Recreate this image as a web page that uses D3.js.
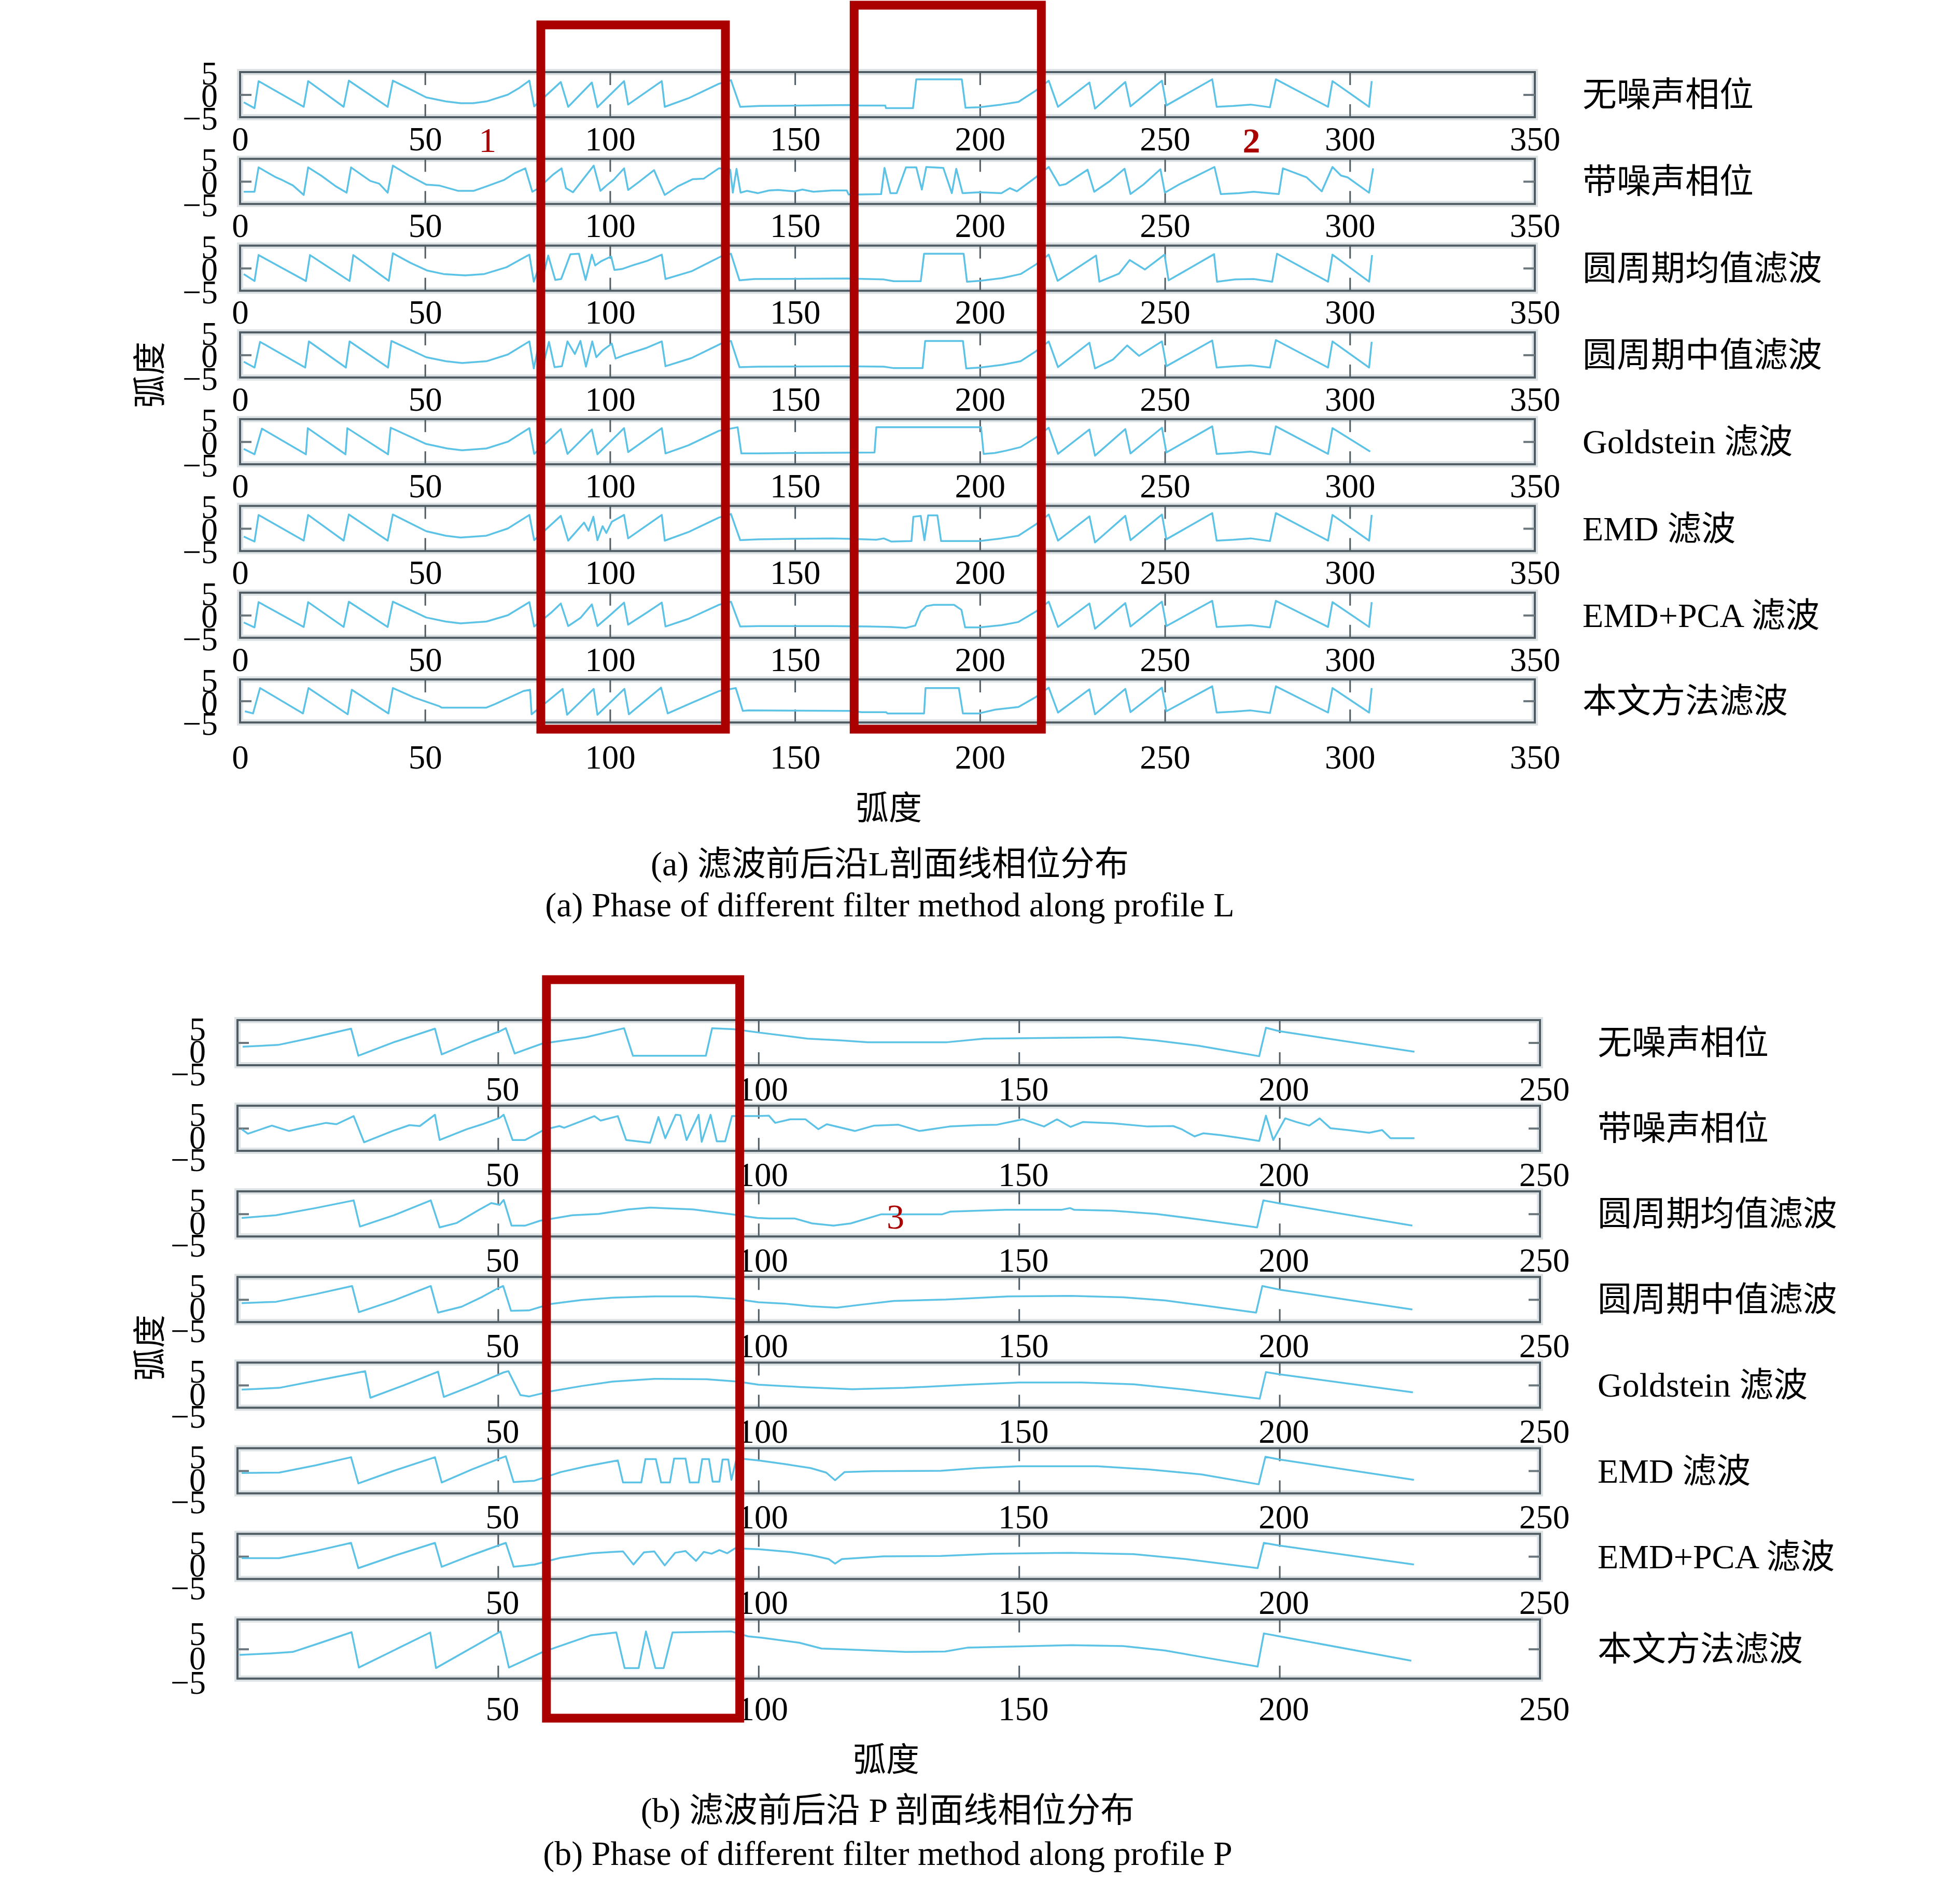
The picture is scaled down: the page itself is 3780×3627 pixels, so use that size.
<!DOCTYPE html>
<html>
<head>
<meta charset="utf-8">
<script src="https://cdn.jsdelivr.net/npm/d3@7"></script>
<style>
  body { margin: 0; background: #fff; }
  text { font-family: "Liberation Serif", "Noto Sans CJK SC", serif; }
</style>
</head>
<body>
<script>
const methods = ["无噪声相位", "带噪声相位", "圆周期均值滤波", "圆周期中值滤波", "Goldstein 滤波", "EMD 滤波", "EMD+PCA 滤波", "本文方法滤波"];
const xTicksL = [0, 50, 100, 150, 200, 250, 300, 350];
const xTicksP = [50, 100, 150, 200, 250];
const yTicks = [5, 0, -5];

// profile L, vertices [x, phase]
const lNoiseFree = [[1,-1.7],[3.9,-3.0],[5,3.0],[17.2,-2.7],[18.4,3.0],[28,-2.7],[29.4,3.1],[39.9,-2.7],[41.3,3.1],[46,1.2],[50.3,-0.6],[55.6,-1.5],[59.6,-1.9],[63,-1.9],[66.6,-1.5],[72.4,0],[75.5,1.5],[78.2,3.1],[79.5,-2.6],[86.7,2.8],[88.7,-2.7],[95.1,2.7],[96.6,-2.8],[103.8,3.0],[104.9,-2.2],[114,3.0],[114.8,-2.7],[121.2,-0.8],[129.4,2.4],[132.7,3.2],[135.2,-2.7],[140.4,-2.5],[164.5,-2.3],[167.6,-2.4],[174.4,-2.4],[174.6,-3.0],[181.9,-3.0],[182.8,3.4],[195.1,3.4],[196.1,-2.9],[199.9,-2.8],[205.8,-2.2],[210.4,-1.6],[215.1,0.9],[218.6,3.1],[221.1,-2.7],[229.6,2.7],[231.1,-3.1],[239.3,2.8],[240.7,-2.6],[249.2,3.1],[250.4,-2.4],[262.8,3.4],[264,-2.7],[268.5,-2.5],[273.2,-2.2],[278.4,-2.8],[280,3.4],[294.1,-2.7],[295.3,3.0],[305.2,-2.7],[305.9,3.0]];
const lNoisy = [[1,-2.3],[3.9,-2.3],[5,3.1],[9.7,0.9],[11.4,0.3],[14.3,-0.9],[17.2,-3.0],[18.4,3.1],[21.9,1.3],[25.9,-1.1],[28.8,-2.5],[30,3.1],[35.2,0.1],[37.6,-0.5],[39.9,-2.5],[41.3,3.5],[45.7,1.3],[50.3,-0.7],[53.8,-0.9],[59,-2.1],[63.1,-2.1],[66.6,-1.1],[71.3,0.3],[74.2,1.8],[77.1,2.9],[79,-2.3],[80.5,-1.6],[84.6,1.5],[86.9,2.9],[88.1,-1.5],[90,-2.4],[95.6,3.5],[97.4,-2.1],[99.2,-0.8],[101,0.4],[103.8,2.9],[104.9,-1.9],[108,0],[111.9,2.5],[114.8,-3.0],[118.3,-1.1],[122.4,0.5],[125.3,0.6],[129.4,2.9],[132.5,2.6],[133.2,-2.5],[134.2,2.8],[135.3,-2.5],[137,-2.1],[140,-2.6],[143,-2.0],[145.4,-1.9],[149.9,-2.2],[152,-1.8],[155,-2.3],[160,-2.0],[164,-2.0],[164.5,-2.9],[167.6,-2.9],[173.3,-2.8],[174.2,3.0],[175.8,-2.6],[177.5,-2.6],[180,3.1],[182.8,3.1],[184.3,-1.8],[185.5,3.2],[190.1,3.0],[192.4,-2.6],[193.6,2.8],[195.3,-2.6],[199.9,-2.4],[205.8,-2.6],[208.1,-1.5],[210,-2.2],[215.1,0.9],[218.6,3.2],[221.5,-0.9],[223.2,-0.6],[229.1,2.6],[230.9,-2.3],[235,0],[239.1,2.8],[240.7,-2.8],[244.2,-0.7],[248.8,2.7],[250,-2.5],[254,-0.6],[258,1.0],[263.4,3.2],[265.1,-2.8],[270,-2.6],[274,-2.3],[280.8,-2.8],[281.9,2.9],[288.3,0.9],[292.4,-2.2],[295.3,3.2],[297.6,1.3],[299.4,0.9],[305.2,-2.5],[306.3,2.9]];
const lCircMean = [[1,-1.3],[3.9,-2.85],[5,2.9],[17.8,-2.85],[18.9,2.9],[29.6,-2.85],[30.6,2.9],[40.2,-2.8],[41.3,3.3],[46,1.2],[50.5,-0.5],[55,-1.3],[60.8,-1.6],[66,-1.3],[72,0.2],[78.2,3.0],[79.4,-3.0],[81.2,1.2],[82.2,-0.8],[83.3,2.8],[85.2,-2.6],[86.8,-2.4],[89.3,3.1],[91.6,3.2],[93.4,-2.6],[95.1,3.0],[96,0.6],[97.5,1.5],[100.3,2.6],[101.2,-0.4],[103.2,-0.2],[106,0.6],[110,1.6],[114,3.0],[115,-2.4],[122,-0.7],[130,2.6],[132.7,3.2],[135,-2.7],[139,-2.4],[164,-2.3],[174,-2.5],[176.7,-2.9],[184,-2.9],[184.9,3.2],[195.6,3.2],[196.5,-3.0],[200,-2.8],[206,-2.2],[211,-1.3],[215.1,0.8],[218.6,3.0],[221,-2.8],[231.4,2.8],[232.3,-3.0],[237.6,-1.2],[240.5,1.8],[244.6,-0.3],[249.9,3.0],[251,-2.7],[263.3,3.1],[264.1,-3.0],[269,-2.5],[274,-2.4],[279,-3.0],[280.3,3.2],[294.1,-3.0],[295.3,3.0],[305.2,-3.0],[306,2.9]];
const lCircMedian = [[1,-1.5],[3.9,-2.8],[5.4,2.9],[17.6,-2.8],[18.6,3.0],[28.6,-2.8],[29.6,3.0],[40,-2.8],[40.9,3.1],[50.3,-0.5],[55.6,-1.4],[60,-1.8],[66.6,-1.4],[72.4,0.1],[78.2,3.0],[79.4,-3.0],[80.8,2.5],[82,-2.0],[83.5,2.9],[85,-2.7],[87,-2.5],[88.5,3.0],[90.5,0.2],[92,3.1],[93.5,-2.6],[95.2,3.0],[96.3,-0.5],[98,1.0],[100.5,2.5],[101.5,-0.8],[104,0],[110,1.6],[114,3.0],[115,-2.5],[122,-0.7],[130,2.5],[132.7,3.1],[135,-2.7],[140,-2.6],[164,-2.5],[174,-2.6],[176.5,-2.9],[184.5,-2.9],[185.2,3.1],[195.4,3.1],[196.3,-3.0],[200,-2.8],[206,-2.2],[211,-1.4],[215.1,0.8],[218.6,3.0],[221.1,-2.7],[229.6,2.7],[231.1,-3.0],[236,-1.0],[239.8,2.1],[243,-0.2],[249.2,3.0],[250.4,-2.5],[262.8,3.2],[264,-2.8],[268.5,-2.5],[273.2,-2.3],[278.4,-2.8],[280,3.3],[294.1,-2.8],[295.3,3.0],[305.2,-2.8],[305.9,2.9]];
const lGoldstein = [[1,-1.6],[3.9,-2.8],[5.9,2.9],[17.8,-2.8],[18.3,3.0],[28.5,-2.8],[29,3.0],[40,-2.8],[40.7,3.1],[50.3,-0.5],[56,-1.5],[60,-1.9],[66.6,-1.5],[72.4,0],[78.2,3.0],[79.5,-2.7],[86.7,2.8],[88.5,-2.7],[95.1,2.7],[96.6,-2.8],[103.8,3.0],[104.9,-2.3],[114,3.0],[115,-2.6],[121.2,-0.8],[129.4,2.4],[134.5,3.2],[135.5,-2.6],[140,-2.6],[150,-2.5],[171.5,-2.4],[172,3.2],[200.3,3.2],[201,-2.7],[204,-2.5],[207,-2.0],[211,-1.2],[215.1,0.9],[218.6,3.1],[221.1,-2.7],[229.6,2.7],[231.1,-3.1],[239.3,2.8],[240.7,-2.6],[249.2,3.1],[250.4,-2.4],[262.8,3.4],[264,-2.7],[268.5,-2.5],[273.2,-2.2],[278.4,-2.8],[280,3.4],[294.1,-2.7],[295.3,3.0],[305.5,-2.2]];
const lEmd = [[1,-1.8],[3.9,-2.9],[5,3.0],[17.2,-2.7],[18.4,3.0],[28,-2.7],[29.4,3.1],[39.9,-2.7],[41.3,3.1],[50.3,-0.6],[55.6,-1.6],[59.6,-2.0],[66.6,-1.6],[72.4,0],[78.2,3.0],[79.5,-2.6],[86.7,2.8],[88.7,-2.7],[93,1.3],[94.2,-0.5],[95.5,2.6],[96.6,-2.6],[98,0.5],[99,-1.0],[100.5,1.5],[103.8,3.0],[104.9,-2.2],[114,3.0],[114.8,-2.7],[121.2,-0.8],[129.4,2.4],[132.7,3.2],[135.2,-2.6],[140,-2.4],[160,-2.2],[165,-2.3],[172,-2.5],[174,-2.2],[176,-2.9],[181.5,-2.8],[182,2.6],[184,2.8],[185,-2.6],[186,2.9],[188.5,2.9],[189.5,-2.8],[199.9,-2.8],[205.8,-2.2],[210.4,-1.6],[215.1,0.9],[218.6,3.1],[221.1,-2.7],[229.6,2.7],[231.1,-3.1],[239.3,2.8],[240.7,-2.6],[249.2,3.1],[250.4,-2.4],[262.8,3.4],[264,-2.7],[268.5,-2.5],[273.2,-2.2],[278.4,-2.8],[280,3.4],[294.1,-2.7],[295.3,3.0],[305.2,-2.7],[305.9,3.0]];
const lEmdPca = [[1,-1.6],[3.9,-2.7],[5,2.9],[17.2,-2.6],[18.4,2.9],[28,-2.6],[29.4,3.0],[39.9,-2.6],[41.3,3.0],[50.3,-0.5],[55.6,-1.4],[59.6,-1.8],[66.6,-1.4],[72.4,0],[78.2,2.9],[79.5,-2.5],[84,0.5],[86.7,2.6],[88.7,-2.4],[92,-0.6],[95.1,2.4],[96.6,-2.4],[100,0],[103.8,2.8],[104.9,-2.1],[110,0.6],[114,2.8],[115,-2.5],[121.2,-0.8],[129.4,2.3],[132.7,3.0],[135.2,-2.5],[140,-2.4],[160,-2.4],[170,-2.5],[176,-2.6],[180,-2.8],[182.5,-2.3],[184,0.8],[185.5,2.0],[187.5,2.3],[193,2.3],[195,1.2],[196,-2.7],[199.9,-2.7],[205.8,-2.2],[210.4,-1.5],[215.1,0.8],[218.6,3.0],[221.1,-2.6],[229.6,2.6],[231.1,-3.0],[239.3,2.7],[240.7,-2.5],[249.2,3.0],[250.4,-2.4],[262.8,3.2],[264,-2.6],[268.5,-2.4],[273.2,-2.2],[278.4,-2.7],[280,3.2],[294.1,-2.6],[295.3,2.9],[305.2,-2.6],[305.9,2.9]];
const lProposed = [[1.3,-2.4],[3.5,-2.9],[5.4,3.0],[17,-2.9],[18.5,3.0],[29.1,-3.1],[30.2,2.6],[40.1,-2.9],[41.3,3.0],[47,0.8],[53.8,-1.2],[54.5,-1.55],[66.6,-1.55],[69,-0.7],[76.6,2.3],[78.4,2.6],[78.8,-3.1],[87.2,2.8],[88.4,-3.2],[95.6,2.8],[96.6,-3.2],[103.9,2.8],[105.1,-3.1],[113.8,3.1],[115.6,-2.9],[122.2,-0.4],[129.5,2.3],[134,3.0],[135.9,-2.3],[137.4,-2.2],[164.8,-2.3],[168,-2.6],[174.6,-2.6],[175,-2.9],[184.9,-2.9],[185.3,3.0],[194.3,3.0],[195.4,-2.9],[199.7,-2.9],[204.2,-2.0],[210.4,-1.4],[215.1,0.9],[218.6,3.1],[221.1,-2.7],[229.6,2.7],[231.1,-3.1],[239.3,2.8],[240.7,-2.6],[249.2,3.1],[250.4,-2.4],[262.8,3.4],[264,-2.7],[268.5,-2.5],[273.2,-2.2],[278.4,-2.8],[280,3.4],[294.1,-2.7],[295.3,3.0],[305.2,-2.7],[305.9,3.0]];

// profile P
const pNoiseFree = [[1,-0.9],[7.8,-0.5],[14,1.0],[21.8,3.1],[23.2,-2.9],[30,0.1],[37.9,3.1],[39.2,-2.6],[45,0.2],[50.3,2.5],[51.5,3.2],[53.2,-2.4],[58.5,-0.2],[66.9,1.2],[74.2,3.2],[75.9,-2.9],[89.9,-2.9],[91.1,3.2],[95.2,3.0],[100.4,2.2],[109.4,0.9],[116,0.5],[121,0.1],[136.2,0.1],[143.3,0.9],[169.3,1.2],[176.3,0.5],[184.5,-0.7],[196.1,-3.0],[197.4,3.3],[199.9,2.55],[225.9,-2.0]];
const pNoisy = [[0.8,-0.2],[2,-1.2],[6.6,0.6],[9.9,-0.6],[13.2,0.3],[17,1.2],[19,0.9],[22.3,2.7],[24.3,-3.1],[30,-0.5],[33,0.7],[35,0.5],[37.9,3.0],[38.8,-2.6],[44,-0.2],[47,0.9],[50.3,2.3],[51.1,3.0],[52.8,-2.6],[55.2,-2.6],[58.9,-0.3],[61.8,0.5],[62.7,0.1],[68.5,2.7],[69.7,1.7],[73,2.7],[74.6,-2.6],[79.2,-3.2],[80.8,2.5],[82.1,-2.2],[84.1,3.0],[85,2.9],[86.2,-2.6],[88.5,3.0],[89.1,-3.0],[90.8,3.0],[92,-2.9],[93.6,-2.9],[94.9,2.7],[99.8,2.7],[102,2.8],[103.2,1.2],[106.1,2.0],[109,2.0],[111.5,-0.2],[113.1,0.9],[118.5,-0.6],[122.2,0.6],[126.8,0.8],[130.9,-0.6],[136.7,0.4],[142,0.7],[145.8,0.8],[150.7,2.0],[154.8,0.4],[157.3,2.0],[159.9,0.3],[162.3,1.4],[168.1,1.1],[174.7,0.4],[179.6,0.5],[181.2,-0.2],[183.7,-1.8],[185.4,-1.1],[188.7,-1.5],[192.8,-2.2],[196.1,-2.8],[197.4,2.8],[198.8,-2.6],[201.1,2.2],[203.2,1.4],[205.7,0.6],[207.7,2.2],[209.8,0],[213.1,-0.4],[217.2,-1.0],[219.7,-0.4],[221.3,-2.2],[225.9,-2.2]];
const pCircMean = [[0.8,-0.9],[7.4,-0.3],[15,1.3],[22.3,3.0],[23.5,-2.8],[30,-0.3],[37.1,3.0],[38.8,-3.0],[42.1,-2.0],[46.2,0.8],[48.7,2.4],[50.3,2.0],[51.1,3.1],[52.6,-2.6],[55.2,-2.6],[58.1,-1.5],[64.3,-0.3],[69.3,0],[75,1.0],[79.2,1.4],[87.4,1.0],[94.9,-0.1],[99.8,-0.9],[102,-1.0],[106.9,-1.0],[110.3,-2.1],[114.4,-2.6],[117.7,-2.1],[123.5,-0.1],[135.2,-0.1],[136.8,0.5],[147.4,0.9],[158.1,0.9],[159.8,1.3],[160.6,0.9],[168,0.7],[176.3,0],[184.5,-1.2],[195.7,-3.0],[196.9,3.0],[200.2,2.3],[225.5,-2.6]];
const pCircMedian = [[0.8,-0.8],[7.4,-0.5],[15,1.2],[22,3.0],[23.3,-2.8],[30,-0.2],[37.1,3.0],[38.5,-2.9],[43,-1.6],[47,0.6],[50,2.5],[51,3.0],[52.5,-2.5],[56,-2.4],[60,-1.0],[66,-0.1],[72,0.4],[80,0.7],[88,0.7],[95,0.2],[100,-0.6],[105,-0.9],[110,-1.5],[115,-1.8],[120,-1.1],[126,-0.3],[136,0],[148,0.7],[160,0.8],[170,0.5],[178,-0.2],[186,-1.4],[195.5,-2.9],[196.7,3.0],[200,2.2],[225.5,-2.2]];
const pGoldstein = [[0.8,-1.0],[8,-0.6],[16,1.2],[24.5,3.1],[25.5,-2.8],[32,0],[38.5,3.0],[39.6,-2.6],[46,0.3],[51,2.8],[52,3.1],[54.3,-2.2],[56,-2.5],[60,-1.4],[66,-0.2],[72,0.8],[80,1.4],[90,1.3],[96,0.8],[100,0.1],[108,-0.4],[118,-0.9],[128,-0.6],[140,0.1],[150,0.6],[162,0.6],[172,0.2],[182,-1.0],[196.2,-3.0],[197.4,2.9],[200,2.4],[225.6,-1.6]];
const pEmd = [[0.8,-0.5],[8,-0.4],[15,1.2],[21.8,3.0],[23.2,-2.8],[30,0],[37.9,3.0],[39.2,-2.6],[45,0.3],[50.5,2.8],[51.5,3.2],[53,-2.5],[57,-2.2],[62,-0.3],[67,1.0],[73,2.3],[74,-2.6],[77.5,-2.6],[78.3,2.6],[80.3,2.6],[81.3,-2.6],[83,-2.6],[83.8,2.7],[86,2.7],[86.8,-2.6],[88.5,-2.6],[89.2,2.6],[90.5,2.6],[91.2,-2.4],[92.5,-2.4],[93.1,2.5],[94.2,2.5],[94.8,-2.0],[95.8,2.8],[100,2.3],[105,1.5],[110,0.6],[113,-0.4],[114.7,-2.1],[116.5,-0.3],[122,-0.1],[135,0],[142,0.6],[150,1.0],[165,1.0],[175,0.3],[185,-0.8],[196,-3.0],[197.3,3.1],[200,2.5],[225.8,-2.0]];
const pEmdPca = [[0.8,-0.4],[8,-0.4],[15,1.2],[21.8,3.0],[23.2,-2.6],[30,0.1],[37.9,3.0],[39.2,-2.3],[45,0.3],[50.5,2.6],[51.5,3.0],[53,-2.3],[57,-1.8],[62,-0.3],[68,0.7],[72,1.0],[74,1.1],[76,-1.8],[78,0.9],[80,1.1],[82,-2.0],[84,0.8],[86,1.2],[88,-1.0],[89.5,1.0],[91,0.6],[92.5,1.4],[94,0.7],[95.5,1.8],[100,1.6],[106,1.0],[110,0.3],[113.5,-0.6],[114.7,-1.6],[116,-0.6],[124,0],[135,0.1],[145,0.6],[160,0.8],[172,0.5],[182,-0.6],[195.8,-2.6],[197,3.0],[200,2.4],[225.8,-1.8]];
const pProposed = [[0.4,-1.2],[6.3,-0.9],[10.6,-0.6],[16,1.3],[21.9,3.45],[23.3,-3.8],[37,3.4],[38.1,-3.9],[50.5,3.6],[52.1,-3.8],[58.6,-0.6],[67.8,2.8],[72.7,3.4],[74.3,-3.9],[77,-3.9],[78.4,3.6],[80.2,-3.9],[81.8,-3.9],[83.5,3.4],[94.8,3.6],[98,2.6],[100.7,2.3],[107.8,1.3],[112.1,0.1],[117.5,-0.1],[128.3,-0.6],[135.8,-0.5],[140.2,0.3],[148.5,0.5],[160,0.8],[170,0.6],[178,-0.3],[186,-1.8],[195.8,-3.6],[197,3.2],[200,2.6],[225.3,-2.4]];

// highlighted ranges (x units) and their markers
const boxesL = [[81.3, 131.2], [166, 216.6]];
const boxesP = [[59.3, 96.4]];
const markersL = [["1", 66.9], ["2", 273.4]];
const markersP = [["3", 126.3]];

const svg = d3.select("body").append("svg")
    .attr("width", 3780)
    .attr("height", 3627)
    .style("background", "#fff");

const lineColor = "#5cc2e6";
const frameColor = "#4f5c63";
const red = "#aa0000";

function drawPanel(opt) {
    const x = d3.scaleLinear().domain(opt.xDomain).range(opt.xRange);
    const n = opt.series.length;

    opt.series.forEach((data, i) => {
        const last = i === n - 1;
        const top = opt.top0 + i * opt.step;
        const h = last ? opt.lastH : opt.h;
        const lim = last ? opt.lastLim : 5;
        const y = d3.scaleLinear().domain([-lim, lim]).range([top + h, top]);
        const g = svg.append("g");

        // soft halo + frame
        g.append("rect")
            .attr("x", opt.xRange[0]).attr("y", top)
            .attr("width", opt.xRange[1] - opt.xRange[0]).attr("height", h)
            .attr("fill", "#fff").attr("stroke", "#dde3e5").attr("stroke-width", 12);
        g.append("rect")
            .attr("x", opt.xRange[0]).attr("y", top)
            .attr("width", opt.xRange[1] - opt.xRange[0]).attr("height", h)
            .attr("fill", "none").attr("stroke", frameColor).attr("stroke-width", 4);

        // inward x ticks, top and bottom
        const bottomAxis = g.append("g")
            .attr("transform", `translate(0,${top + h})`)
            .call(d3.axisBottom(x).tickValues(opt.xTicks).tickSize(-25).tickFormat(d3.format("d")));
        g.append("g")
            .attr("transform", `translate(0,${top})`)
            .call(d3.axisTop(x).tickValues(opt.xTicks).tickSize(-25).tickFormat(""));
        g.selectAll(".domain").remove();
        g.selectAll(".tick line").attr("stroke", frameColor).attr("stroke-width", 3);
        bottomAxis.selectAll(".tick text")
            .attr("y", last ? opt.lastLabelGap : opt.labelGap)
            .attr("dy", "0.35em")
            .attr("dx", opt.labelDx)
            .style("font-size", "65px")
            .style("font-family", "Liberation Serif")
            .attr("fill", "#000");

        // y labels
        const yAxis = g.append("g")
            .attr("transform", `translate(${opt.xRange[0]},${opt.yLabelShift})`)
            .call(d3.axisLeft(y).tickValues(yTicks).tickSize(0).tickPadding(opt.yPad)
                .tickFormat(d => d < 0 ? "\u2212" + Math.abs(d) : d));
        yAxis.select(".domain").remove();
        yAxis.selectAll("text").style("font-size", "64px").style("font-family", "Liberation Serif").attr("fill", "#000");

        // zero ticks at both sides
        [d3.axisLeft(y), d3.axisRight(y)].forEach((ax, k) => {
            const zg = g.append("g")
                .attr("transform", `translate(${opt.xRange[k]},0)`)
                .call(ax.tickValues([0]).tickSize(-22).tickFormat(""));
            zg.select(".domain").remove();
            zg.selectAll("line").attr("stroke", "#6b777d").attr("stroke-width", 4);
        });

        // phase line
        g.append("path")
            .datum(data)
            .attr("fill", "none")
            .attr("stroke", lineColor)
            .attr("stroke-width", 3.5)
            .attr("stroke-linejoin", "round")
            .attr("d", d3.line().x(d => x(d[0])).y(d => y(d[1])));

        // method name
        g.append("text")
            .attr("x", opt.nameX)
            .attr("y", top + h / 2)
            .attr("dominant-baseline", "central")
            .style("font-size", "66px")
            .text(methods[i]);
    });

    // y title
    svg.append("text")
        .attr("transform", `translate(289,${opt.yTitleY}) rotate(-90)`)
        .attr("text-anchor", "middle")
        .attr("dominant-baseline", "central")
        .style("font-size", "64px")
        .text("弧度");
    // x title and captions
    svg.append("text")
        .attr("x", opt.xTitle[0]).attr("y", opt.xTitle[1])
        .attr("text-anchor", "middle").attr("dominant-baseline", "central")
        .style("font-size", "64px")
        .text("弧度");
    opt.captions.forEach(([t, cy]) => {
        svg.append("text")
            .attr("x", opt.captionX).attr("y", cy)
            .attr("text-anchor", "middle").attr("dominant-baseline", "central")
            .style("font-size", "66px")
            .text(t);
    });

    // red highlight frames
    opt.boxes.forEach(([a, b], k) => {
        svg.append("rect")
            .attr("x", x(a)).attr("y", opt.boxTops[k])
            .attr("width", x(b) - x(a)).attr("height", opt.boxBottom - opt.boxTops[k])
            .attr("fill", "none").attr("stroke", red).attr("stroke-width", 17);
    });
    opt.markers.forEach(([t, v], k) => {
        svg.append("text")
            .attr("x", x(v)).attr("y", opt.markerY[k])
            .attr("text-anchor", "middle").attr("dominant-baseline", "central")
            .style("font-size", "68px")
            .style("font-weight", t === "2" ? "bold" : "normal")
            .attr("fill", red)
            .text(t);
    });
}

drawPanel({
    series: [lNoiseFree, lNoisy, lCircMean, lCircMedian, lGoldstein, lEmd, lEmdPca, lProposed],
    xDomain: [0, 350], xRange: [463, 2960], xTicks: xTicksL,
    top0: 139, step: 167.3, h: 87, lastH: 83, lastLim: 5,
    labelGap: 41, lastLabelGap: 66, labelDx: 0,
    yPad: 43, yLabelShift: 3,
    nameX: 3052, yTitleY: 723,
    xTitle: [1714, 1558], captionX: 1716,
    captions: [["(a) 滤波前后沿L剖面线相位分布", 1665], ["(a) Phase of different filter method along profile L", 1744]],
    boxes: boxesL, boxTops: [48, 10], boxBottom: 1406,
    markers: markersL, markerY: [270, 271]
});

drawPanel({
    series: [pNoiseFree, pNoisy, pCircMean, pCircMedian, pGoldstein, pEmd, pEmdPca, pProposed],
    xDomain: [0, 250], xRange: [458, 2970], xTicks: xTicksP,
    top0: 1967, step: 165.1, h: 87, lastH: 114, lastLim: 6.06,
    labelGap: 45, lastLabelGap: 58, labelDx: 8,
    yPad: 61, yLabelShift: 18,
    nameX: 3081, yTitleY: 2599,
    xTitle: [1709, 3393], captionX: 1712,
    captions: [["(b) 滤波前后沿 P 剖面线相位分布", 3490], ["(b) Phase of different filter method along profile P", 3573]],
    boxes: boxesP, boxTops: [1889], boxBottom: 3313,
    markers: markersP, markerY: [2346]
});
</script>
</body>
</html>
